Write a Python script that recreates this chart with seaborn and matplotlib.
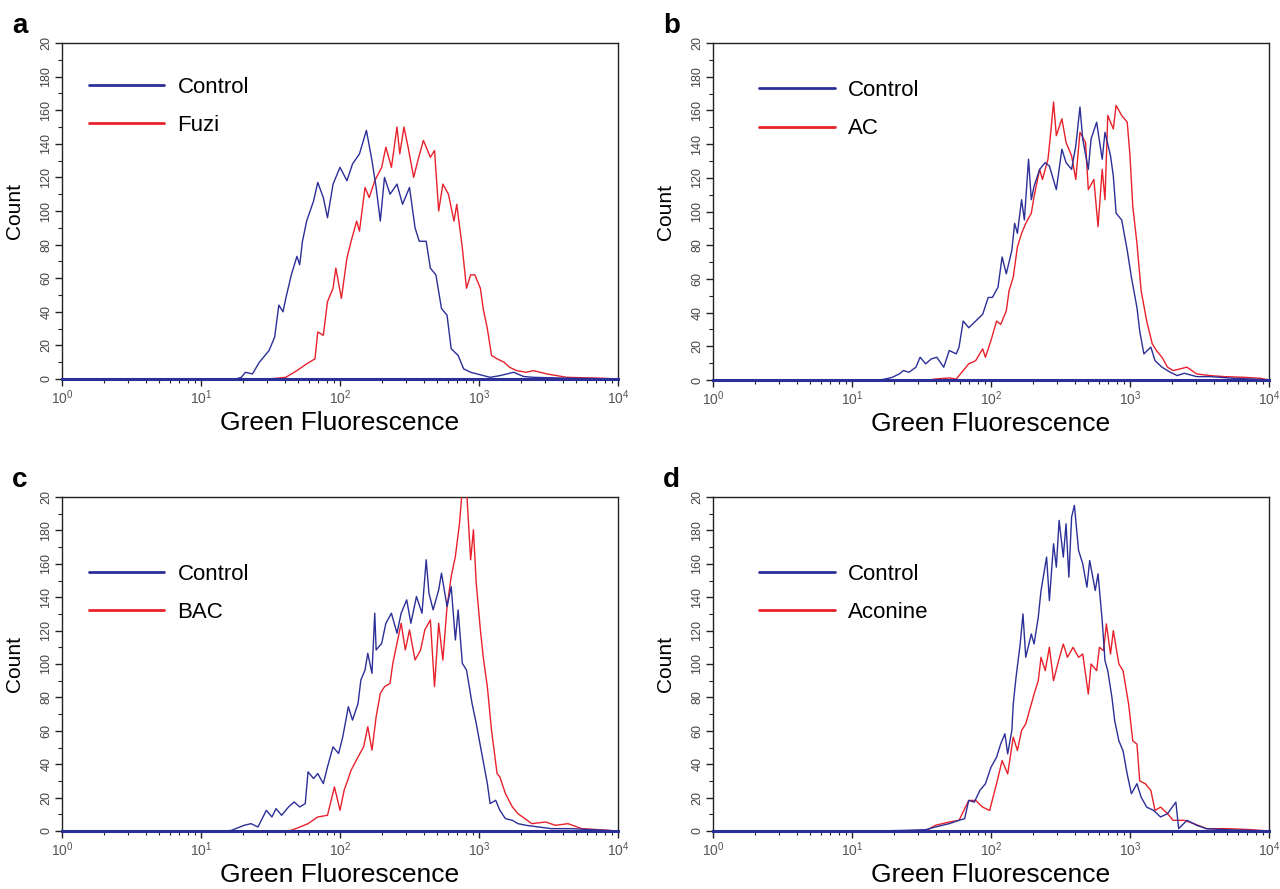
import numpy as np
import pandas as pd
import matplotlib
matplotlib.use("Agg")
import matplotlib.pyplot as plt
from matplotlib.ticker import FixedLocator, MultipleLocator, NullFormatter
import seaborn as sns

sns.set_style("ticks")
plt.rcParams['font.family'] = ['Liberation Sans', 'DejaVu Sans']
plt.rcParams['mathtext.fontset'] = 'custom'
plt.rcParams['mathtext.rm'] = 'Liberation Sans'
plt.rcParams['text.color'] = 'black'
plt.rcParams['axes.labelcolor'] = 'black'

BLUE = '#2b2f98'
RED = '#e8212b'

# --- data: log10(green fluorescence) and cell count ---
a_ctrl_log = [0.0, 1.25, 1.29, 1.32, 1.37, 1.42, 1.49, 1.53, 1.56, 1.59, 1.61, 1.65, 1.69, 1.71, 1.73,
              1.76, 1.81, 1.84, 1.88, 1.91, 1.95, 2.00, 2.05, 2.09, 2.14, 2.19, 2.23, 2.26, 2.29,
              2.32, 2.36, 2.41, 2.45, 2.50, 2.54, 2.57, 2.62, 2.65, 2.69, 2.73, 2.77, 2.80, 2.85,
              2.89, 2.94, 3.01, 3.08, 3.15, 3.25, 3.32, 3.39, 3.63, 4.0]
a_ctrl_cnt = [0, 0, 1, 4, 3, 10, 17, 25, 44, 40, 48, 62, 73, 68, 82,
              94, 106, 117, 108, 96, 116, 126, 118, 128, 134, 148, 130, 114, 94,
              120, 110, 116, 104, 114, 90, 82, 82, 66, 62, 42, 38, 18, 14,
              6, 4, 2.5, 1, 2, 4, 1.5, 1, 0.5, 0]
a_trt_log = [0.0, 1.49, 1.61, 1.69, 1.76, 1.82, 1.84, 1.88, 1.91, 1.95, 1.97, 2.01, 2.05, 2.08, 2.12,
             2.14, 2.18, 2.21, 2.25, 2.30, 2.33, 2.37, 2.41, 2.43, 2.46, 2.49, 2.53, 2.56, 2.60,
             2.65, 2.68, 2.71, 2.74, 2.78, 2.82, 2.84, 2.88, 2.91, 2.94, 2.97, 3.01, 3.03, 3.06,
             3.09, 3.13, 3.18, 3.22, 3.27, 3.34, 3.39, 3.49, 3.63, 3.87, 4.0]
a_trt_cnt = [0, 0, 1, 5, 9, 12, 28, 26, 46, 54, 66, 48, 72, 82, 94,
             88, 114, 108, 118, 126, 138, 126, 150, 134, 150, 138, 120, 130, 142,
             132, 136, 100, 116, 110, 94, 104, 78, 54, 62, 62, 54, 42, 30,
             14, 12, 10, 7, 5, 4, 5, 3, 1, 0.5, 0]

b_ctrl_log = [0.0, 1.20, 1.24, 1.29, 1.34, 1.37, 1.41, 1.46, 1.49, 1.53, 1.57, 1.61, 1.66, 1.70, 1.75,
              1.77, 1.80, 1.84, 1.89, 1.94, 1.98, 2.01, 2.05, 2.08, 2.11, 2.15, 2.17, 2.19, 2.22,
              2.24, 2.27, 2.29, 2.31, 2.35, 2.39, 2.42, 2.47, 2.51, 2.54, 2.58, 2.61, 2.64, 2.66,
              2.70, 2.72, 2.76, 2.80, 2.82, 2.86, 2.88, 2.90, 2.94, 2.98, 3.01, 3.05, 3.07, 3.10,
              3.15, 3.18, 3.23, 3.29, 3.34, 3.39, 3.48, 3.58, 3.75, 3.87, 4.0]
b_ctrl_cnt = [0, 0, 0.6, 1.6, 3.6, 5.6, 4.6, 7.6, 13.5, 9.6, 12.5, 13.5, 7.6, 17.5, 15.5,
              19.5, 35, 31, 35, 39, 49, 49, 55, 73, 63, 77, 93, 87, 107,
              95, 131, 107, 115, 125, 129, 127, 113, 137, 129, 125, 139, 162, 143,
              125, 143, 153, 131, 147, 133, 121, 99, 95, 77, 61, 43, 29, 15.5,
              19.5, 11.5, 7.6, 4.6, 2.6, 4, 2, 2, 1, 0.6, 0]
b_trt_log = [0.0, 1.55, 1.60, 1.70, 1.75, 1.80, 1.84, 1.89, 1.94, 1.96, 2.00, 2.04, 2.07, 2.11, 2.13,
             2.16, 2.19, 2.22, 2.25, 2.29, 2.31, 2.35, 2.37, 2.41, 2.43, 2.45, 2.47, 2.51, 2.54,
             2.58, 2.61, 2.64, 2.68, 2.70, 2.74, 2.77, 2.80, 2.82, 2.84, 2.88, 2.90, 2.94, 2.98,
             3.00, 3.02, 3.05, 3.08, 3.12, 3.16, 3.19, 3.23, 3.27, 3.31, 3.41, 3.48, 3.58, 3.68,
             3.82, 3.94, 4.0]
b_trt_cnt = [0, 0, 0.6, 1.2, 0.6, 5.6, 9.6, 11.5, 18.5, 13.5, 23.5, 35, 33, 41, 53,
             61, 79, 87, 93, 99, 109, 125, 119, 131, 147, 165, 145, 155, 141,
             133, 119, 147, 141, 113, 119, 91, 125, 107, 157, 149, 163, 157, 153,
             133, 103, 81, 53, 35, 21.5, 17.5, 13.5, 7.6, 5.6, 7.6, 3.6, 2.6, 2,
             1.6, 1, 0]

c_ctrl_log = [0.0, 1.18, 1.22, 1.31, 1.36, 1.41, 1.47, 1.51, 1.54, 1.58, 1.63, 1.67, 1.71, 1.75, 1.77,
              1.81, 1.84, 1.88, 1.91, 1.95, 1.99, 2.02, 2.06, 2.09, 2.13, 2.15, 2.18, 2.20, 2.23,
              2.25, 2.26, 2.30, 2.33, 2.37, 2.41, 2.44, 2.48, 2.51, 2.55, 2.59, 2.62, 2.64, 2.67,
              2.71, 2.73, 2.77, 2.80, 2.83, 2.85, 2.88, 2.91, 2.95, 2.98, 3.02, 3.06, 3.08, 3.12,
              3.15, 3.19, 3.24, 3.28, 3.34, 3.43, 3.52, 3.67, 3.81, 4.0]
c_ctrl_cnt = [0, 0, 0.4, 3.4, 4.4, 2.4, 12.4, 8.4, 13.4, 9.4, 14.4, 17.4, 14.4, 16.4, 35.4,
              31.4, 34.4, 28.4, 38.4, 50.4, 46.4, 56.4, 74.4, 66.4, 76.4, 90.4, 96.4, 106.4, 94.4,
              130.4, 108.4, 112.4, 124.4, 130.4, 118.4, 130.4, 138.4, 124.4, 140.4, 130.4, 162.4, 142.4, 132.4,
              144.4, 154.4, 134.4, 146.4, 114.4, 132.4, 100.4, 96.4, 76.4, 64.4, 46.4, 28.4, 16.4, 18.4,
              12.4, 7.4, 6.4, 4.4, 3.4, 2.4, 1.4, 1.4, 0.8, 0]
c_trt_log = [0.0, 1.60, 1.65, 1.70, 1.77, 1.84, 1.91, 1.96, 2.00, 2.03, 2.08, 2.13, 2.17, 2.20, 2.23,
             2.26, 2.29, 2.32, 2.36, 2.38, 2.42, 2.44, 2.47, 2.50, 2.54, 2.58, 2.61, 2.65, 2.68,
             2.71, 2.74, 2.77, 2.80, 2.83, 2.86, 2.88, 2.91, 2.94, 2.96, 2.98, 3.01, 3.03, 3.06,
             3.09, 3.13, 3.15, 3.19, 3.24, 3.28, 3.33, 3.38, 3.48, 3.55, 3.64, 3.74, 3.86, 4.0]
c_trt_cnt = [0, 0, 0.4, 2, 4.4, 8.4, 9.4, 26.4, 12.4, 24.4, 36.4, 44.4, 50.4, 62.4, 48.4,
             68.4, 82.4, 86.4, 88.4, 100.4, 116.4, 124.4, 108.4, 120.4, 102.4, 108.4, 120.4, 126.4, 86.4,
             124.4, 102.4, 134.4, 152.4, 164.4, 184.4, 205, 205, 162.4, 180.4, 148.4, 120.4, 104.4, 86.4,
             60.4, 34.4, 32.4, 22.4, 14.4, 10.4, 7.4, 4.4, 5.4, 3.4, 4.4, 1.4, 0.8, 0]

d_ctrl_log = [0.0, 1.17, 1.39, 1.53, 1.60, 1.70, 1.77, 1.81, 1.84, 1.88, 1.92, 1.96, 2.00, 2.04, 2.07,
              2.10, 2.12, 2.15, 2.16, 2.18, 2.21, 2.23, 2.25, 2.29, 2.31, 2.34, 2.36, 2.40, 2.42,
              2.45, 2.47, 2.49, 2.52, 2.54, 2.56, 2.58, 2.60, 2.63, 2.66, 2.69, 2.71, 2.75, 2.77,
              2.80, 2.82, 2.84, 2.87, 2.89, 2.92, 2.95, 2.98, 3.01, 3.05, 3.08, 3.12, 3.17, 3.22,
              3.27, 3.33, 3.35, 3.41, 3.48, 3.55, 3.68, 4.0]
d_ctrl_cnt = [0, 0, 0.4, 0.8, 2.4, 4.4, 6.4, 7.4, 18.3, 17.3, 24.3, 28.3, 38.2, 44.2, 52.2,
              58.2, 46.2, 60.2, 76, 92, 112, 130, 104, 118, 112, 128, 144, 164, 138,
              172, 158, 186, 164, 184, 152, 188, 195, 168, 160, 146, 162, 144, 154,
              126, 102, 96, 80, 66, 54, 48, 34, 22.3, 28.3, 20.3, 14.3, 12.3, 8.4,
              10.4, 17.3, 1.4, 6.4, 3.4, 1.4, 0.8, 0]
d_trt_log = [0.0, 1.53, 1.60, 1.65, 1.70, 1.77, 1.84, 1.89, 1.94, 1.99, 2.04, 2.08, 2.12, 2.16, 2.19,
             2.22, 2.25, 2.29, 2.31, 2.34, 2.36, 2.39, 2.42, 2.45, 2.48, 2.52, 2.55, 2.59, 2.63,
             2.66, 2.70, 2.72, 2.76, 2.78, 2.81, 2.83, 2.86, 2.88, 2.92, 2.95, 2.99, 3.02, 3.05,
             3.07, 3.11, 3.15, 3.18, 3.22, 3.27, 3.31, 3.39, 3.46, 3.55, 3.70, 3.87, 4.0]
d_trt_cnt = [0, 0, 3.4, 4.4, 5.4, 6.4, 18.3, 18.3, 14.3, 12.3, 28.3, 42.2, 34.2, 56.2, 48.2,
             60.2, 64.2, 76, 82, 90, 104, 96, 110, 90, 100, 112, 104, 110, 104,
             106, 82, 100, 96, 110, 108, 124, 106, 120, 100, 96, 76, 54, 52,
             30, 28.3, 24.3, 12.3, 14.3, 10.4, 6.4, 6.4, 4.4, 1.4, 1.4, 0.8, 0]

panels = [
    ("a", "Fuzi", a_ctrl_log, a_ctrl_cnt, a_trt_log, a_trt_cnt),
    ("b", "AC", b_ctrl_log, b_ctrl_cnt, b_trt_log, b_trt_cnt),
    ("c", "BAC", c_ctrl_log, c_ctrl_cnt, c_trt_log, c_trt_cnt),
    ("d", "Aconine", d_ctrl_log, d_ctrl_cnt, d_trt_log, d_trt_cnt),
]

y_ticks = list(range(0, 201, 20))
y_labels = [str(v) for v in y_ticks[:-1]] + ["20"]   # top label is cut short in the original
x_ticks = [1, 10, 100, 1000, 10000]
x_labels = [r"$\mathregular{10^{%d}}$" % i for i in range(5)]

W, H = 1280, 889
fig = plt.figure(figsize=(W / 100, H / 100), dpi=100)

# axes boxes in pixels: left, top, right, bottom
boxes = [(62, 43, 618, 379), (713, 43, 1269, 380), (62, 497, 618, 831), (713, 497, 1269, 831)]
legend_top = [0.90, 0.89, 0.80, 0.80]
legend_left = [0.048, 0.083, 0.048, 0.083]

for (letter, name, cl, cc, tl, tc), (l, t, r, b), ly, lx in zip(panels, boxes, legend_top, legend_left):
    ax = fig.add_axes([l / W, 1 - b / H, (r - l) / W, (b - t) / H])

    ctrl = pd.DataFrame({"x": np.power(10.0, cl), "count": cc})
    trt = pd.DataFrame({"x": np.power(10.0, tl), "count": tc})
    sns.lineplot(data=ctrl, x="x", y="count", color=BLUE, lw=1.0, label="Control",
                 sort=False, ax=ax, zorder=4)
    sns.lineplot(data=trt, x="x", y="count", color=RED, lw=1.0, label=name,
                 sort=False, ax=ax, zorder=3)

    ax.set_xscale("log")
    ax.set_xlim(1, 1e4)
    ax.set_ylim(0, 200)
    ax.xaxis.set_major_locator(FixedLocator(x_ticks))
    ax.set_xticklabels(x_labels, fontsize=10, color="#555555")
    ax.xaxis.set_minor_formatter(NullFormatter())
    ax.set_yticks(y_ticks)
    ax.set_yticklabels(y_labels, rotation=90, va="center", fontsize=9, color="#444444")
    ax.yaxis.set_minor_locator(MultipleLocator(10))
    ax.tick_params(which="major", direction="out", length=5, width=1, pad=2, color="#222222")
    ax.tick_params(which="minor", direction="out", length=3, width=0.8, color="#222222")

    for s in ["left", "top", "right"]:
        ax.spines[s].set_color("#222222")
        ax.spines[s].set_linewidth(1.0)
    ax.spines["bottom"].set_color(BLUE)
    ax.spines["bottom"].set_linewidth(2.2)
    ax.spines["bottom"].set_zorder(5)

    ax.set_xlabel("Green Fluorescence", fontsize=19, labelpad=3)
    ax.set_ylabel("Count", fontsize=15, labelpad=12)

    leg = ax.legend(loc="upper left", bbox_to_anchor=(lx, ly), frameon=False, fontsize=16,
                    handlelength=3.4, handletextpad=0.6, labelspacing=0.78,
                    borderaxespad=0, borderpad=0)
    for line in leg.get_lines():
        line.set_linewidth(2.0)

    ax.text(-0.09, 1.03, letter, transform=ax.transAxes, fontsize=20,
            fontweight="bold", ha="left", va="baseline")

fig.savefig("out.png", dpi=100)
